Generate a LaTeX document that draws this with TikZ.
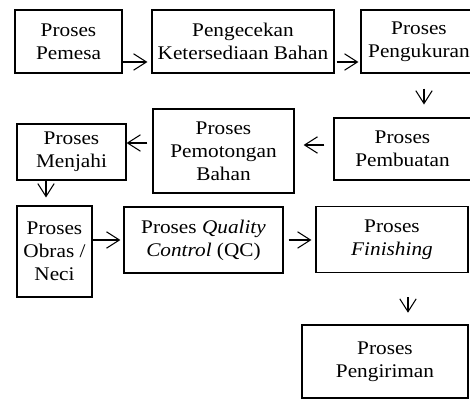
\documentclass[tikz,border=0pt]{standalone}
\usepackage{fontspec}
\setmainfont{Liberation Serif}[FakeStretch=1.1]
\usetikzlibrary{arrows.meta}

\tikzset{
	box/.style={draw, line width=1pt, align=center, inner sep=0pt, font=\fontsize{16.5}{19.5}\selectfont},
	arr/.style={-{Straight Barb[length=11pt,width=14pt]}, line width=0.9pt},
}

\begin{document}
\begin{tikzpicture}[x=0.03cm, y=-0.03cm]
		\useasboundingbox (0,0) rectangle (470,400);
		\clip (0,0) rectangle (470,400);
		% baris 1
		\node[box, minimum width=3.21cm, minimum height=1.89cm] (pemesa) at (68.5,41.5) {Proses\\Pemesa};
		\node[box, minimum width=5.46cm, minimum height=1.89cm] (cek) at (243,41.5) {Pengecekan\\Ketersediaan Bahan};
		\node[box, minimum width=3.48cm, minimum height=1.89cm] (ukur) at (419,41.5) {Proses\\Pengukuran};
		% baris 2
		\node[box, minimum width=4.11cm, minimum height=1.86cm] (buat) at (402.5,149) {Proses\\Pembuatan};
		\node[box, minimum width=4.23cm, minimum height=2.52cm] (potong) at (223.5,151) {Proses\\Pemotongan\\Bahan};
		\node[box, minimum width=3.27cm, minimum height=1.68cm] (jahit) at (71.5,152) {Proses\\Menjahi};
		% baris 3
		\node[box, minimum width=2.25cm, minimum height=2.73cm] (obras) at (54.5,251.5) {Proses\\Obras /\\Neci};
		\node[box, minimum width=4.77cm, minimum height=1.98cm] (qc) at (203.5,240) {Proses \textit{Quality}\\\textit{Control} (QC)};
		\node[box, minimum width=4.56cm, minimum height=1.98cm] (finish) at (392,239.5) {Proses\\\textit{Finishing}};
		\node[box, minimum width=4.98cm, minimum height=2.19cm] (kirim) at (385,361.5) {Proses\\Pengiriman};
		% panah
		\draw[arr, shorten >=3.4pt] (pemesa.east |- 0,62) -- (cek.west |- 0,62);
		\draw[arr, shorten <=1.7pt, shorten >=1.7pt] (cek.east |- 0,62) -- (ukur.west |- 0,62);
		\draw[arr, shorten <=12.8pt, shorten >=11pt] (ukur.south -| 424,0) -- (buat.north -| 424,0);
		\draw[arr, shorten <=7.7pt, shorten >=7.7pt] (buat.west |- 0,145) -- (potong.east |- 0,145);
		\draw[arr, shorten <=4.3pt] (potong.west |- 0,143) -- (jahit.east |- 0,143);
		\draw[arr, shorten >=6.8pt] (jahit.south -| 46,0) -- (obras.north -| 46,0);
		\draw[arr, shorten >=2.6pt] (obras.east |- 0,240) -- (qc.west |- 0,240);
		\draw[arr, shorten <=4.3pt, shorten >=3.4pt] (qc.east |- 0,240) -- (finish.west |- 0,240);
		\draw[arr, shorten <=20.5pt, shorten >=10pt] (finish.south -| 408,0) -- (kirim.north -| 408,0);
\end{tikzpicture}
\end{document}
